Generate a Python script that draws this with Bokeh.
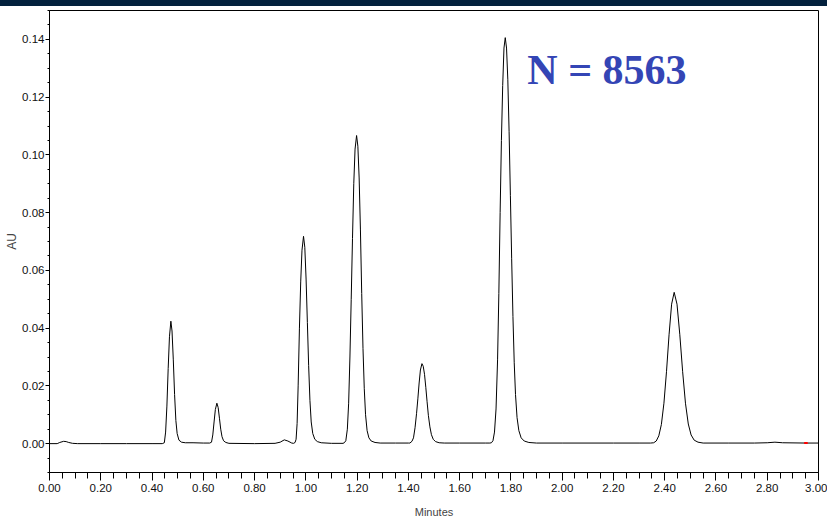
from bokeh.plotting import figure
from bokeh.models import FixedTicker, Label, Div, Range1d
from bokeh.layouts import column
from bokeh.embed import file_html
from bokeh.resources import INLINE

# ---- data (time in minutes, absorbance in AU) ----
start_t = [0.00, 0.03, 0.04, 0.055, 0.065, 0.075, 0.09, 0.11, 0.20, 0.30, 0.40, 0.44]
start_au = [0.0, 0.0, 0.0004, 0.0008, 0.0007, 0.0004, 0.0001, 0.0, 0.0, 0.0, 0.0, 0.0]

peak1_t = [0.448, 0.453, 0.458, 0.463, 0.468, 0.4735, 0.478, 0.483, 0.488, 0.493, 0.498, 0.505, 0.515, 0.53]
peak1_au = [0.0003, 0.004, 0.013, 0.026, 0.037, 0.0424, 0.039, 0.029, 0.017, 0.008, 0.0035, 0.0012, 0.0005, 0.0003]

gap1_t = [0.56, 0.60, 0.625]
gap1_au = [0.0003, 0.0002, 0.0002]

peak2_t = [0.632, 0.637, 0.642, 0.647, 0.653, 0.658, 0.663, 0.668, 0.673, 0.679, 0.688, 0.70]
peak2_au = [0.0005, 0.003, 0.0075, 0.0118, 0.0140, 0.0125, 0.0088, 0.0050, 0.0024, 0.0010, 0.0004, 0.0001]

gap2_t = [0.80, 0.88, 0.90, 0.916, 0.93, 0.945, 0.952]
gap2_au = [0.0, 0.0001, 0.0005, 0.0013, 0.0009, 0.0002, 0.0001]

peak3_t = [0.958, 0.962, 0.966, 0.970, 0.975, 0.980, 0.985, 0.991, 0.996, 1.001, 1.006, 1.011,
           1.016, 1.021, 1.027, 1.035, 1.045, 1.06]
peak3_au = [0.0004, 0.0015, 0.007, 0.020, 0.040, 0.056, 0.067, 0.0718, 0.068, 0.057, 0.042, 0.027,
            0.015, 0.0075, 0.0035, 0.0015, 0.0007, 0.0003]

gap3_t = [1.10, 1.145]
gap3_au = [0.0001, 0.0001]

peak4_t = [1.150, 1.156, 1.162, 1.167, 1.172, 1.177, 1.182, 1.187, 1.192, 1.198, 1.203, 1.208,
           1.213, 1.218, 1.223, 1.228, 1.233, 1.239, 1.246, 1.255, 1.27, 1.29]
peak4_au = [0.0003, 0.001, 0.005, 0.014, 0.030, 0.050, 0.071, 0.090, 0.102, 0.1067, 0.103, 0.092,
            0.074, 0.052, 0.033, 0.019, 0.010, 0.0045, 0.002, 0.0009, 0.0004, 0.0002]

gap4_t = [1.35, 1.40]
gap4_au = [0.0002, 0.0002]

peak5_t = [1.406, 1.414, 1.420, 1.426, 1.432, 1.437, 1.442, 1.447, 1.453, 1.458, 1.463, 1.468,
           1.473, 1.478, 1.484, 1.490, 1.497, 1.506, 1.52, 1.54]
peak5_au = [0.0002, 0.0008, 0.002, 0.0055, 0.0105, 0.0155, 0.021, 0.0255, 0.0277, 0.0268, 0.024, 0.0195,
            0.0145, 0.0098, 0.0058, 0.0031, 0.0015, 0.0007, 0.0003, 0.0002]

gap5_t = [1.60, 1.70, 1.718]
gap5_au = [0.0002, 0.0002, 0.0002]

peak6_t = [1.724, 1.730, 1.736, 1.742, 1.748, 1.753, 1.758, 1.763, 1.768, 1.773, 1.778, 1.783,
           1.788, 1.793, 1.798, 1.803, 1.808, 1.813, 1.818, 1.824, 1.831, 1.840, 1.852, 1.87, 1.90]
peak6_au = [0.0003, 0.001, 0.004, 0.012, 0.029, 0.052, 0.080, 0.105, 0.124, 0.137, 0.1406, 0.137,
            0.126, 0.108, 0.086, 0.064, 0.044, 0.028, 0.017, 0.009, 0.0045, 0.002, 0.0009, 0.0004, 0.0002]

gap6_t = [2.00, 2.20, 2.30, 2.345]
gap6_au = [0.0002, 0.0002, 0.0002, 0.0002]

peak7_t = [2.357, 2.367, 2.377, 2.387, 2.397, 2.407, 2.417, 2.427, 2.437, 2.448, 2.459, 2.470,
           2.481, 2.492, 2.503, 2.515, 2.53, 2.55]
peak7_au = [0.0003, 0.0009, 0.0027, 0.0066, 0.014, 0.0249, 0.0377, 0.0483, 0.0524, 0.0483, 0.0377, 0.0249,
            0.014, 0.0068, 0.003, 0.0012, 0.0005, 0.0002]

end_t = [2.65, 2.75, 2.80, 2.83, 2.86, 2.95, 3.00]
end_au = [0.0002, 0.0002, 0.0003, 0.0005, 0.0003, 0.0002, 0.0002]

marker_t = [2.944, 2.958]
marker_au = [0.0002, 0.0002]

x_ticks = [0.0, 0.2, 0.4, 0.6, 0.8, 1.0, 1.2, 1.4, 1.6, 1.8, 2.0, 2.2, 2.4, 2.6, 2.8, 3.0]
y_ticks = [0.00, 0.02, 0.04, 0.06, 0.08, 0.10, 0.12, 0.14]
x_minor = [i * 0.05 for i in range(61)]
y_minor = [-0.01 + i * 0.005 for i in range(33)]

title_text = "N = 8563"
x_label = "Minutes"
y_label = "AU"

t_all = (start_t + peak1_t + gap1_t + peak2_t + gap2_t + peak3_t + gap3_t + peak4_t + gap4_t
         + peak5_t + gap5_t + peak6_t + gap6_t + peak7_t + end_t)
au_all = (start_au + peak1_au + gap1_au + peak2_au + gap2_au + peak3_au + gap3_au + peak4_au + gap4_au
          + peak5_au + gap5_au + peak6_au + gap6_au + peak7_au + end_au)

SANS = "Liberation Sans"

p = figure(width=827, height=515, output_backend="svg", toolbar_location=None,
           x_range=Range1d(0, 3.0), y_range=Range1d(-0.01, 0.15),
           min_border_left=49, min_border_right=9, min_border_top=4, min_border_bottom=49)
p.background_fill_color = "white"
p.border_fill_color = "white"
p.outline_line_color = "black"
p.outline_line_width = 1
p.xgrid.visible = False
p.ygrid.visible = False

p.line(t_all, au_all, line_color="black", line_width=1)
p.line(marker_t, marker_au, line_color="red", line_width=2)

xa = p.xaxis[0]
xa.ticker = FixedTicker(ticks=x_ticks, minor_ticks=x_minor)
xa.major_label_overrides = {v: f"{v:.2f}" for v in x_ticks}
xa.major_tick_out = 8
xa.major_tick_in = 0
xa.minor_tick_out = 6
xa.minor_tick_in = 0
xa.major_label_standoff = 3
xa.major_label_text_font = SANS
xa.major_label_text_font_size = "11.5px"
xa.major_label_text_color = "#111111"
xa.axis_label = x_label
xa.axis_label_text_font = SANS
xa.axis_label_text_font_size = "11px"
xa.axis_label_text_font_style = "normal"
xa.axis_label_standoff = 11
xa.axis_line_color = "black"

ya = p.yaxis[0]
ya.ticker = FixedTicker(ticks=y_ticks, minor_ticks=y_minor)
ya.major_label_overrides = {v: f"{v:.2f}" for v in y_ticks}
ya.major_tick_out = 4
ya.major_tick_in = 0
ya.minor_tick_out = 2
ya.minor_tick_in = 0
ya.major_label_standoff = 1
ya.major_label_text_font = SANS
ya.major_label_text_font_size = "11.5px"
ya.major_label_text_color = "#111111"
ya.axis_label = y_label
ya.axis_label_text_font = SANS
ya.axis_label_text_font_size = "12px"
ya.axis_label_text_font_style = "normal"
ya.axis_label_standoff = 0
ya.axis_line_color = "black"

p.add_layout(Label(x=1.864, y=0.1295, text=title_text, text_font="Liberation Serif",
                   text_font_style="bold", text_font_size="42px", text_color="#3445b5",
                   text_baseline="alphabetic", text_align="left"))

band = Div(text="", width=827, height=6, styles={"background-color": "#03213d"}, margin=(0, 0, 0, 0))
layout = column(band, p, spacing=0)

open("out.html", "w").write(file_html(layout, INLINE))
